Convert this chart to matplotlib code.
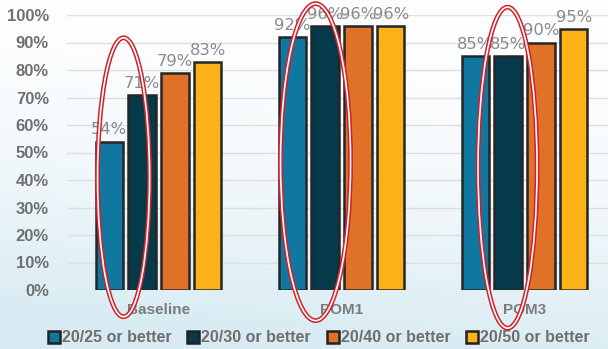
import numpy as np
import matplotlib
matplotlib.use("Agg")
import matplotlib.pyplot as plt
from matplotlib.patches import Ellipse
from matplotlib.lines import Line2D
import matplotlib.transforms as mtransforms

# --- data ---
groups = ["Baseline", "POM1", "POM3"]
series = ["20/25 or better", "20/30 or better", "20/40 or better", "20/50 or better"]
v_2025 = [54, 92, 85]
v_2030 = [71, 96, 85]
v_2040 = [79, 96, 90]
v_2050 = [83, 96, 95]
values = [v_2025, v_2030, v_2040, v_2050]
colors = ["#0f77a0", "#053a4b", "#e07227", "#fbb118"]
yticks = list(range(0, 101, 10))

W, H = 608, 349
fig = plt.figure(figsize=(W / 100, H / 100), dpi=100)

# soft blue-to-white background wash
bg = fig.add_axes([0, 0, 1, 1], zorder=-10)
yy, xx = np.mgrid[0:1:200j, 0:1:300j]
t = np.clip((1 - yy) * 1.25 - 0.3 + (1 - xx) * 0.2, 0, 1) ** 1.5
top = np.array([0.988, 0.993, 0.997])
bot = np.array([0.85, 0.925, 0.952])
img = top[None, None, :] * (1 - t[..., None]) + bot[None, None, :] * t[..., None]
bg.imshow(img, aspect="auto", extent=[0, 1, 0, 1], origin="lower")
bg.axis("off")

ax = fig.add_axes([67 / W, 1 - 290 / H, 1 - 67 / W, 275 / H])
ax.patch.set_alpha(0)
ax.set_xlim(-0.5, -0.5 + (W - 67) / 183)
ax.set_ylim(0, 100)

x = np.arange(len(groups))
step = 0.18
width = 0.148
offsets = (np.arange(len(series)) - 1.5) * step

for i, (vals, c) in enumerate(zip(values, colors)):
    ax.bar(x + offsets[i], vals, width=width, color=c, edgecolor="#262626",
           linewidth=1.8, zorder=3, label=series[i])
    for xi, v in zip(x + offsets[i], vals):
        ax.annotate(f"{v}%", (xi, v), xytext=(0, 3), textcoords="offset points",
                    ha="center", va="bottom", fontsize=11.8, color="#8a8a8a",
                    family="Liberation Sans Narrow", zorder=5)

lab_font = {"family": "Liberation Sans", "weight": "bold"}
ax.set_yticks(yticks)
ax.set_yticklabels([f"{v}%" for v in yticks], fontsize=12, color="#707070", **lab_font)
ax.set_xticks(x)
ax.set_xticklabels(groups, fontsize=11, color="#7c7c7c", **lab_font)
ax.tick_params(axis="y", length=0, pad=13)
ax.tick_params(axis="x", length=0, pad=9)
ax.grid(axis="y", color="#dedede", linewidth=1, zorder=0)
for s in ax.spines.values():
    s.set_visible(False)

# red highlight rings around the first two bars of each group (pixel sizes)
fig.canvas.draw()
rings = [  # (group, x shift px, y-center %, width px, height px)
    (0, -2, 41, 52, 279),
    (1, 7, 46.5, 70, 317),
    (2, 16, 44.5, 59, 321),
]
for g, dx, yc, wpx, hpx in rings:
    cx = x[g] + (offsets[0] + offsets[1]) / 2
    px, py = ax.transData.transform((cx, yc))
    tr = mtransforms.Affine2D().translate(px + dx, py)
    for lw, ec in [(3.4, "#d0202a"), (1.2, "#ffffff")]:
        e = Ellipse((0, 0), wpx, hpx, fill=False, edgecolor=ec,
                    linewidth=lw, transform=tr, zorder=10)
        e.set_clip_on(False)
        fig.add_artist(e)

handles = [Line2D([], [], marker="s", linestyle="none", markersize=8,
                  markerfacecolor=c, markeredgecolor="#222222", markeredgewidth=1.8)
           for c in colors]
leg = fig.legend(handles, series, loc="center", bbox_to_anchor=(319 / W, 1 - 338 / H),
                 ncol=4, frameon=False, handlelength=0.7, handletextpad=0.15,
                 columnspacing=1.0, borderaxespad=0,
                 prop={"family": "Liberation Sans", "weight": "bold", "size": 11.5})
for txt in leg.get_texts():
    txt.set_color("#6e6e6e")

fig.savefig("out.png", dpi=100)
